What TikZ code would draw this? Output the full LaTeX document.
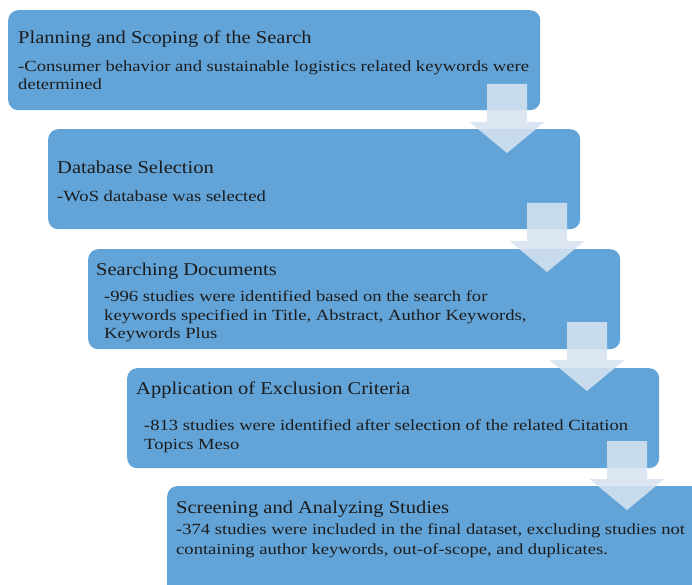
\documentclass[tikz,border=0pt]{standalone}
\usepackage{fontspec}
\setmainfont{Liberation Serif}
\newfontfamily\headfont{Liberation Serif}[FakeStretch=1.14]
\newfontfamily\bodyfont{Liberation Serif}[FakeStretch=1.2]
\definecolor{stepblue}{RGB}{99,164,216}
\definecolor{arrowfill}{RGB}{215,227,240}
\definecolor{inkdark}{RGB}{28,28,28}
\tikzset{
  stagebox/.style={fill=stepblue, rounded corners=10pt, draw=none, inner sep=0pt,
    minimum width=532pt, minimum height=100pt, anchor=north west},
  headline/.style={anchor=base west, inner sep=0pt, text=inkdark,
    font=\headfont\fontsize{18}{18}\selectfont},
  bodyline/.style={anchor=base west, inner sep=0pt, text=inkdark,
    font=\bodyfont\fontsize{15.5}{18.5}\selectfont},
  flowarrow/.style={fill=arrowfill, fill opacity=0.88, draw=none},
  blockdown/.pic={
    \fill[flowarrow] (-20,0) -- (20,0) -- (20,38) -- (37.5,38) -- (0,69)
      -- (-37.5,38) -- (-20,38) -- cycle;
  }
}
\begin{document}
\begin{tikzpicture}[x=1pt,y=-1pt]
\useasboundingbox (0,0) rectangle (692,585);
\clip (0,0) rectangle (692,585);

% stage boxes, each shifted right and down
\node[stagebox] (s1) at (8,10) {};
\node[stagebox] (s2) at (48,129) {};
\node[stagebox] (s3) at (88,249) {};
\node[stagebox] (s4) at (127,368) {};
\node[stagebox, minimum width=545pt, minimum height=115pt] (s5) at (167,486) {};

% stage 1
\node[headline] (h1) at (18,44) {Planning and Scoping of the Search};
\node[bodyline] (p1a) at (18,72) {-Consumer behavior and sustainable logistics related keywords were};
\node[bodyline] (p1b) at (18,90) {determined};

% stage 2
\node[headline] (h2) at (57,174) {Database Selection};
\node[bodyline] (p2a) at (57,201) {-WoS database was selected};

% stage 3
\node[headline] (h3) at (96,275) {Searching Documents};
\node[bodyline] (p3a) at (104,301) {-996 studies were identified based on the search for};
\node[bodyline] (p3b) at (104,320) {keywords specified in Title, Abstract, Author Keywords,};
\node[bodyline] (p3c) at (104,338) {Keywords Plus};

% stage 4
\node[headline] (h4) at (136,394) {Application of Exclusion Criteria};
\node[bodyline] (p4a) at (144,430) {-813 studies were identified after selection of the related Citation};
\node[bodyline] (p4b) at (144,449) {Topics Meso};

% stage 5
\node[headline] (h5) at (176,513) {Screening and Analyzing Studies};
\node[bodyline] (p5a) at (176,534) {-374 studies were included in the final dataset, excluding studies not};
\node[bodyline] (p5b) at (176,554) {containing author keywords, out-of-scope, and duplicates.};

% translucent block arrows linking the stages
\pic at (507,84) {blockdown};
\pic at (547,203) {blockdown};
\pic at (587,322) {blockdown};
\pic at (627,441) {blockdown};
\end{tikzpicture}
\end{document}
